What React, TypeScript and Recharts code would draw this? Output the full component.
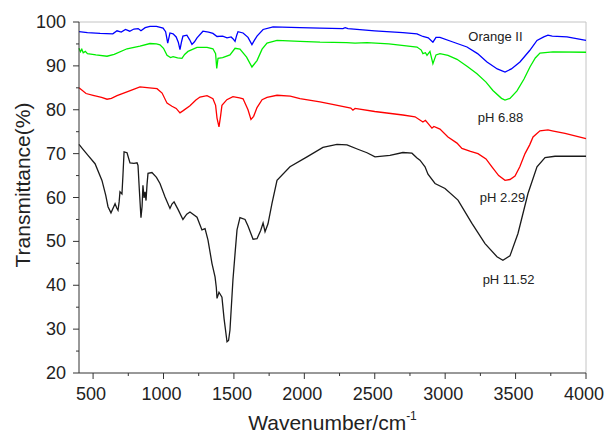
import {
  LineChart,
  Line,
  XAxis,
  YAxis,
  Label,
  ReferenceLine,
  ReferenceDot,
} from "recharts";

const FONT = '"Liberation Sans", Arial, sans-serif';

// FTIR spectra, [wavenumber (cm-1), transmittance (%)]
const orangeII: [number, number][] = [
  [400, 97.8], [460, 97.6], [550, 97.4], [640, 97.3], [670, 98.0], [700, 97.7],
  [730, 98.3], [760, 97.9], [790, 98.4], [820, 98.5], [840, 98.0], [870, 98.7],
  [904, 99.0], [950, 99.0], [997, 98.6], [1015, 97.8], [1030, 95.2], [1046, 97.5],
  [1068, 97.3], [1090, 96.6], [1105, 95.4], [1117, 93.7], [1128, 95.5], [1138, 96.8],
  [1166, 97.0], [1185, 96.0], [1202, 94.9], [1220, 95.5], [1238, 96.4], [1280, 97.9],
  [1320, 97.7], [1351, 97.4], [1380, 96.7], [1420, 96.8], [1451, 96.4], [1480, 96.6],
  [1493, 96.2], [1508, 95.6], [1520, 97.0], [1529, 97.8], [1565, 97.5], [1600, 96.5],
  [1628, 94.85], [1645, 95.8], [1664, 96.8], [1707, 98.3], [1778, 98.9], [1969, 98.7],
  [2111, 98.6], [2274, 98.5], [2290, 98.7], [2310, 98.5], [2500, 98.0], [2700, 97.6],
  [2800, 97.3], [2842, 96.7], [2880, 96.4], [2913, 95.4], [2935, 96.5], [2963, 96.5],
  [3050, 95.5], [3155, 94.3], [3230, 92.8], [3297, 90.9], [3370, 89.3], [3425, 88.6],
  [3470, 89.3], [3531, 90.9], [3600, 93.5], [3652, 95.8], [3700, 96.6], [3730, 97.0],
  [3760, 96.8], [3865, 96.6], [4000, 95.8],
];

const ph688: [number, number][] = [
  [400, 94.0], [410, 93.2], [420, 93.8], [430, 93.0], [445, 93.3], [460, 92.8],
  [520, 92.5], [599, 92.2], [650, 92.6], [741, 93.9], [833, 94.5], [904, 95.1],
  [950, 95.0], [975, 94.8], [1000, 94.0], [1025, 92.4], [1050, 91.9], [1068, 92.1],
  [1100, 91.8], [1131, 91.7], [1150, 92.6], [1174, 93.3], [1238, 94.2], [1309, 94.2],
  [1351, 93.9], [1370, 92.8], [1378, 89.4], [1387, 91.7], [1420, 91.9], [1472, 92.5],
  [1508, 94.0], [1543, 93.8], [1590, 92.0], [1628, 89.75], [1664, 91.2], [1700, 93.8],
  [1735, 95.2], [1806, 95.8], [1969, 95.6], [2111, 95.4], [2300, 95.3], [2360, 95.2],
  [2445, 95.3], [2600, 95.0], [2800, 94.3], [2830, 93.6], [2842, 92.8], [2860, 93.0],
  [2871, 92.4], [2892, 93.3], [2913, 90.5], [2935, 92.5], [2963, 92.8], [3020, 92.4],
  [3084, 91.5], [3160, 89.8], [3226, 88.2], [3290, 86.3], [3339, 84.4], [3400, 82.6],
  [3425, 82.2], [3460, 82.6], [3510, 84.3], [3560, 87.0], [3602, 89.75], [3640, 91.8],
  [3673, 92.9], [3765, 93.2], [4000, 93.1],
];

const ph229: [number, number][] = [
  [400, 85.0], [450, 83.7], [500, 83.3], [560, 82.8], [599, 82.4], [630, 82.6],
  [670, 83.2], [750, 84.2], [833, 85.2], [900, 85.0], [954, 84.8], [990, 83.8],
  [1025, 81.5], [1060, 80.8], [1090, 80.3], [1117, 79.3], [1140, 79.8], [1188, 80.9],
  [1230, 82.2], [1259, 82.9], [1309, 83.2], [1351, 82.5], [1370, 81.0], [1380, 78.1],
  [1394, 76.1], [1405, 78.5], [1415, 81.0], [1450, 82.3], [1493, 83.0], [1540, 82.7],
  [1565, 82.5], [1600, 80.0], [1621, 77.8], [1640, 78.5], [1664, 80.5], [1700, 82.3],
  [1735, 82.8], [1806, 83.3], [1900, 83.1], [1969, 82.55], [2111, 81.8], [2200, 81.2],
  [2330, 80.4], [2345, 79.9], [2360, 80.3], [2500, 79.6], [2700, 78.8], [2786, 78.4],
  [2842, 77.2], [2860, 77.6], [2906, 75.8], [2920, 76.2], [2963, 75.6], [3020, 73.8],
  [3084, 72.4], [3119, 71.2], [3180, 70.5], [3233, 70.0], [3290, 68.8], [3332, 67.0],
  [3380, 65.0], [3425, 63.9], [3460, 64.1], [3496, 64.9], [3530, 67.0], [3567, 70.0],
  [3600, 72.0], [3624, 73.8], [3673, 75.2], [3730, 75.4], [3760, 75.2], [3851, 74.6],
  [4000, 73.4],
];

const ph1152: [number, number][] = [
  [400, 72.1], [430, 70.9], [464, 69.6], [514, 67.7], [563, 63.9], [590, 60.5],
  [606, 57.9], [627, 56.5], [645, 57.8], [656, 58.6], [668, 57.6], [677, 57.1],
  [685, 59.0], [691, 61.3], [705, 60.8], [712, 65.0], [720, 70.4], [741, 70.2],
  [762, 67.9], [790, 67.8], [812, 67.9], [819, 67.3], [828, 62.0], [840, 55.4],
  [848, 58.0], [854, 62.8], [862, 59.9], [869, 61.3], [876, 59.3], [883, 63.0],
  [890, 65.5], [918, 65.7], [950, 64.6], [975, 63.2], [1011, 60.1], [1046, 57.5],
  [1060, 58.5], [1075, 59.0], [1103, 57.3], [1138, 55.0], [1165, 56.2], [1188, 56.7],
  [1238, 55.5], [1273, 52.6], [1295, 52.9], [1316, 50.3], [1344, 45.0], [1366, 41.9],
  [1375, 39.5], [1380, 37.0], [1394, 38.4], [1415, 37.3], [1430, 32.4], [1451, 27.1],
  [1462, 27.4], [1472, 29.8], [1493, 41.2], [1510, 48.0], [1522, 52.6], [1543, 55.4],
  [1579, 55.0], [1600, 53.5], [1636, 50.5], [1664, 50.6], [1690, 52.5], [1707, 54.2],
  [1721, 52.2], [1742, 54.0], [1770, 58.6], [1806, 63.9], [1898, 67.0], [2019, 69.25],
  [2132, 71.4], [2232, 72.1], [2303, 72.0], [2380, 71.0], [2445, 70.2], [2502, 69.25],
  [2608, 69.6], [2700, 70.25], [2764, 70.1], [2800, 69.0], [2821, 68.5], [2857, 67.0],
  [2878, 65.3], [2928, 63.2], [2999, 62.05], [3091, 59.4], [3190, 54.1], [3283, 49.5],
  [3368, 46.5], [3410, 45.7], [3460, 46.7], [3517, 51.8], [3588, 60.9], [3652, 67.0],
  [3709, 69.1], [3780, 69.4], [4000, 69.4],
];

const xTicks = [
  500, 750, 1000, 1250, 1500, 1750, 2000, 2250, 2500, 2750, 3000, 3250, 3500, 3750, 4000,
];
const yTicks = [20, 25, 30, 35, 40, 45, 50, 55, 60, 65, 70, 75, 80, 85, 90, 95, 100];

// curve labels placed next to each spectrum
const curveLabels = [
  { text: "Orange II", wn: 3357, t: 96.8 },
  { text: "pH 6.88", wn: 3393, t: 78.2 },
  { text: "pH 2.29", wn: 3407, t: 60.1 },
  { text: "pH 11.52", wn: 3450, t: 41.3 },
];

const series = [
  { name: "Orange II", points: orangeII, color: "#0000ff" },
  { name: "pH 6.88", points: ph688, color: "#00ee00" },
  { name: "pH 2.29", points: ph229, color: "#ff0000" },
  { name: "pH 11.52", points: ph1152, color: "#1a1a1a" },
];

const toRows = (pts: [number, number][]) => pts.map(([wn, t]) => ({ wn, t }));

const XTick = ({ x, y, payload }: any) => {
  const major = payload.value % 500 === 0;
  return (
    <g>
      <line x1={x} x2={x} y1={y} y2={y + (major ? 6 : 3)} stroke="#333" />
      {major && (
        <text
          x={x - 2}
          y={y + 21}
          textAnchor="middle"
          dominantBaseline="central"
          fontSize={18}
          fontFamily={FONT}
          fill="#222"
        >
          {payload.value}
        </text>
      )}
    </g>
  );
};

const YTick = ({ x, y, payload }: any) => {
  const major = payload.value % 10 === 0;
  return (
    <g>
      <line x1={x - (major ? 6 : 3)} x2={x} y1={y} y2={y} stroke="#333" />
      {major && (
        <text
          x={x - 13}
          y={y}
          textAnchor="end"
          dominantBaseline="central"
          fontSize={18}
          fontFamily={FONT}
          fill="#222"
        >
          {payload.value}
        </text>
      )}
    </g>
  );
};

export default function App() {
  return (
    <div style={{ position: "absolute", left: 0, top: 0, background: "#fff" }}>
      <LineChart
        width={605}
        height={437}
        margin={{ top: 22, right: 19, bottom: 0, left: 19 }}
      >
        <XAxis
          type="number"
          dataKey="wn"
          domain={[400, 4000]}
          ticks={xTicks}
          interval={0}
          height={64}
          tickSize={0}
          tickMargin={0}
          tickLine={false}
          axisLine={{ stroke: "#333" }}
          tick={<XTick />}
        >
          <Label
            content={({ viewBox }: any) => (
              <text
                x={viewBox.x + viewBox.width / 2}
                y={viewBox.y + 57}
                textAnchor="middle"
                fontSize={21}
                fontFamily={FONT}
                fill="#222"
              >
                Wavenumber/cm
                <tspan fontSize={12} dy={-10}>-1</tspan>
              </text>
            )}
          />
        </XAxis>
        <YAxis
          type="number"
          domain={[20, 100]}
          ticks={yTicks}
          interval={0}
          width={60}
          tickSize={0}
          tickMargin={0}
          tickLine={false}
          axisLine={{ stroke: "#333" }}
          tick={<YTick />}
        >
          <Label
            content={() => (
              <text
                x={22}
                y={185}
                transform="rotate(-90 22 185)"
                textAnchor="middle"
                dominantBaseline="central"
                fontSize={21}
                fontFamily={FONT}
                fill="#222"
              >
                Transmittance(%)
              </text>
            )}
          />
        </YAxis>

        {/* frame on the top and right */}
        <ReferenceLine y={100} stroke="#c4c4c4" />
        <ReferenceLine x={4000} stroke="#c4c4c4" />

        {series.map((s) => (
          <Line
            key={s.name}
            name={s.name}
            data={toRows(s.points)}
            dataKey="t"
            type="linear"
            stroke={s.color}
            strokeWidth={1.3}
            dot={false}
            isAnimationActive={false}
          />
        ))}

        {curveLabels.map((c) => (
          <ReferenceDot
            key={c.text}
            x={c.wn}
            y={c.t}
            r={0}
            stroke="none"
            fill="none"
            label={{
              value: c.text,
              position: "center",
              fontSize: 13,
              fontFamily: FONT,
              fill: "#222",
            }}
          />
        ))}
      </LineChart>
    </div>
  );
}
